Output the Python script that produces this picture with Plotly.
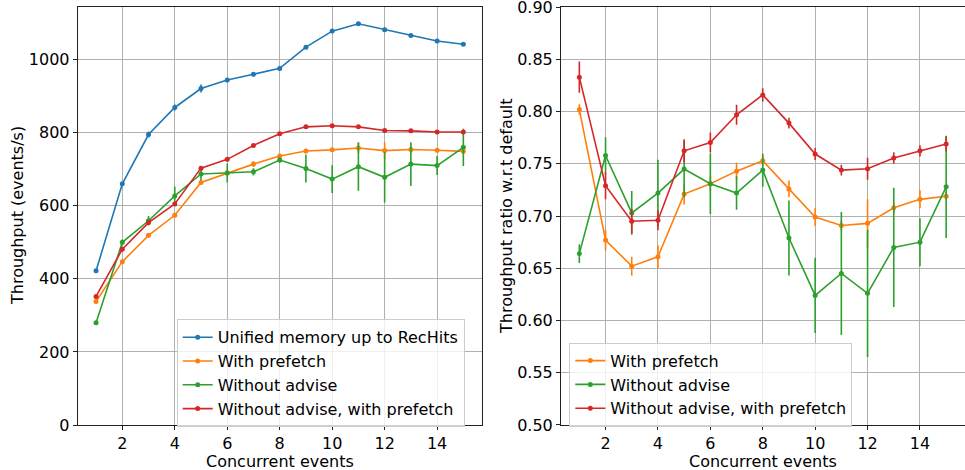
import plotly.graph_objects as go

x = list(range(1, 16))

# Left panel: throughput (events/s)
unified_tp = [422, 660, 795, 869, 921, 944, 960, 976, 1034, 1078, 1098, 1082, 1066, 1051, 1042]
unified_tp_err = [4, 5, 8, 8, 11, 6, 6, 5, 5, 5, 5, 5, 5, 5, 5]
prefetch_tp = [338, 447, 519, 574, 664, 690, 714, 736, 750, 753, 758, 751, 754, 752, 749]
prefetch_tp_err = [5, 6, 6, 6, 6, 6, 8, 6, 6, 6, 15, 23, 10, 6, 5]
noadvise_tp = [280, 500, 559, 627, 687, 690, 693, 725, 702, 673, 707, 678, 714, 710, 760]
noadvise_tp_err = [4, 8, 13, 26, 17, 26, 10, 8, 38, 38, 66, 69, 60, 26, 51]
noadv_pref_tp = [352, 481, 554, 605, 703, 727, 765, 797, 816, 819, 816, 806, 805, 802, 802]
noadv_pref_tp_err = [5, 5, 5, 5, 5, 5, 5, 5, 5, 5, 5, 5, 5, 5, 5]

# Right panel: throughput ratio w.r.t default
prefetch_ratio = [0.802, 0.677, 0.652, 0.661, 0.721, 0.731, 0.743, 0.753, 0.726, 0.699, 0.691, 0.693, 0.708, 0.716, 0.719]
prefetch_ratio_err = [0.005, 0.010, 0.009, 0.011, 0.010, 0.007, 0.008, 0.005, 0.008, 0.0085, 0.005, 0.023, 0.005, 0.0086, 0.004]
noadvise_ratio = [0.664, 0.758, 0.703, 0.722, 0.745, 0.731, 0.722, 0.744, 0.679, 0.624, 0.645, 0.626, 0.670, 0.675, 0.728]
noadvise_ratio_err = [0.009, 0.0175, 0.021, 0.032, 0.027, 0.029, 0.016, 0.016, 0.036, 0.036, 0.059, 0.061, 0.057, 0.023, 0.049]
noadv_pref_ratio = [0.833, 0.729, 0.695, 0.696, 0.7625, 0.7705, 0.797, 0.816, 0.789, 0.7594, 0.744, 0.7453, 0.7556, 0.7625, 0.769]
noadv_pref_ratio_err = [0.015, 0.0128, 0.0118, 0.0096, 0.011, 0.0096, 0.0096, 0.0064, 0.0051, 0.0057, 0.0051, 0.0105, 0.0054, 0.0054, 0.0072]

y_ticks_left = [0, 200, 400, 600, 800, 1000]
y_ticks_right = [0.5, 0.55, 0.6, 0.65, 0.7, 0.75, 0.8, 0.85, 0.9]
x_ticks = [2, 4, 6, 8, 10, 12, 14]

names = ["Unified memory up to RecHits", "With prefetch", "Without advise", "Without advise, with prefetch"]
colors = ["#1f77b4", "#ff7f0e", "#2ca02c", "#d62728"]

FONT = "DejaVu Sans"
FS = 16

fig = go.Figure()

def add(xx, y, err, name, color, xa, ya, legend):
    fig.add_trace(go.Scatter(
        x=xx, y=y, name=name, mode="lines+markers",
        line=dict(color=color, width=1.6),
        marker=dict(color=color, size=5),
        error_y=dict(type="data", array=err, width=0, thickness=1.6, color=color),
        xaxis=xa, yaxis=ya, legend=legend,
    ))

left = [(unified_tp, unified_tp_err), (prefetch_tp, prefetch_tp_err),
        (noadvise_tp, noadvise_tp_err), (noadv_pref_tp, noadv_pref_tp_err)]
for (y, e), n, c in zip(left, names, colors):
    add(x, y, e, n, c, "x", "y", "legend")

right = [(prefetch_ratio, prefetch_ratio_err), (noadvise_ratio, noadvise_ratio_err),
         (noadv_pref_ratio, noadv_pref_ratio_err)]
for (y, e), n, c in zip(right, names[1:], colors[1:]):
    add(x, y, e, n, c, "x2", "y2", "legend2")

W, H = 965, 470
T, B = 7, 45

def ax_common():
    return dict(
        showgrid=True, gridcolor="#b0b0b0", gridwidth=1,
        showline=True, linecolor="#222222", linewidth=1, mirror=True,
        ticks="outside", ticklen=4, tickcolor="#222222",
        tickfont=dict(family=FONT, size=FS, color="black"),
        zeroline=False, automargin=False, ticklabeloverflow="allow",
    )

def py(ypx):
    return (H - B - ypx) / (H - T - B)

fig.update_layout(
    width=W, height=H,
    margin=dict(l=0, r=0, t=T, b=B),
    plot_bgcolor="white", paper_bgcolor="white",
    font=dict(family=FONT, size=FS, color="black"),
    hovermode=False,
    xaxis=dict(domain=[77.7 / W, 481.7 / W], range=[0.3, 15.7], tickvals=x_ticks, anchor="y", **ax_common()),
    yaxis=dict(domain=[0, 1], range=[0, 1144], tickvals=y_ticks_left, anchor="x", **ax_common()),
    xaxis2=dict(domain=[561 / W, 964.5 / W], range=[0.3, 15.7], tickvals=x_ticks, anchor="y2", **ax_common()),
    yaxis2=dict(domain=[0, 1], range=[0.4999, 0.9002], tickvals=y_ticks_right,
                tickformat=".2f", anchor="x2", **ax_common()),
    legend=dict(x=176.7 / W, y=py(319.3), xanchor="left", yanchor="top",
                bgcolor="rgba(255,255,255,0.8)", bordercolor="#cccccc", borderwidth=1,
                font=dict(family=FONT, size=FS), tracegroupgap=0, itemwidth=30),
    legend2=dict(x=569.3 / W, y=py(342.7), xanchor="left", yanchor="top",
                 bgcolor="rgba(255,255,255,0.8)", bordercolor="#cccccc", borderwidth=1,
                 font=dict(family=FONT, size=FS), tracegroupgap=0, itemwidth=30),
    annotations=[
        dict(text="Throughput (events/s)", xref="paper", yref="paper", x=17 / W, y=0.5,
             textangle=-90, showarrow=False, xanchor="center", yanchor="middle",
             font=dict(family=FONT, size=FS)),
        dict(text="Throughput ratio w.r.t default", xref="paper", yref="paper", x=506 / W, y=0.5,
             textangle=-90, showarrow=False, xanchor="center", yanchor="middle",
             font=dict(family=FONT, size=FS)),
        dict(text="Concurrent events", xref="paper", yref="paper", x=279.5 / W,
             y=py(461), showarrow=False, xanchor="center", yanchor="middle",
             font=dict(family=FONT, size=FS)),
        dict(text="Concurrent events", xref="paper", yref="paper", x=762.7 / W,
             y=py(461), showarrow=False, xanchor="center", yanchor="middle",
             font=dict(family=FONT, size=FS)),
    ],
)

fig.write_html(
    "out.html",
    config={"displayModeBar": False},
    post_script="document.body.style.margin='0';document.body.style.overflow='hidden';",
)
